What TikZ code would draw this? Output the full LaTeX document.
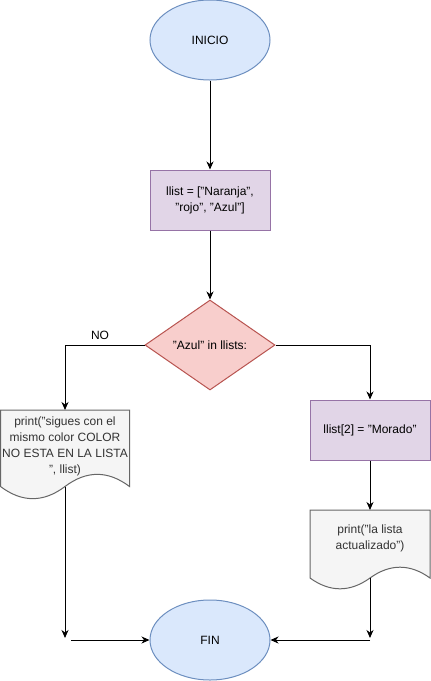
\documentclass[tikz,border=0pt]{standalone}
\usepackage{fontspec}
\setmainfont{Liberation Sans}
\usetikzlibrary{shapes.geometric,arrows.meta}
\definecolor{bluefill}{HTML}{DAE8FC}
\definecolor{bluedraw}{HTML}{6C8EBF}
\definecolor{purpfill}{HTML}{E1D5E7}
\definecolor{purpdraw}{HTML}{9673A6}
\definecolor{redfill}{HTML}{F8CECC}
\definecolor{reddraw}{HTML}{B85450}
\definecolor{docfill}{HTML}{F5F5F5}
\definecolor{docdraw}{HTML}{666666}
\definecolor{doctext}{HTML}{333333}
\tikzset{
  every node/.style={font=\fontsize{12}{16}\selectfont, inner sep=0pt, align=center},
  terminal/.style={ellipse, draw=bluedraw, fill=bluefill, line width=1pt, minimum width=120pt, minimum height=80pt},
  procbox/.style={rectangle, draw=purpdraw, fill=purpfill, line width=1pt, minimum width=120pt, minimum height=60pt},
  decision/.style={diamond, draw=reddraw, fill=redfill, line width=1pt, minimum width=130pt, minimum height=90pt},
  doctxt/.style={text=doctext},
  docline/.style={draw=docdraw, fill=docfill, line width=1pt},
  conn/.style={line width=1pt, -{Stealth[length=8pt,width=7pt,inset=2.5pt]}},
  plainconn/.style={line width=1pt}
}
\begin{document}
\begin{tikzpicture}[x=1pt,y=-1pt]
\useasboundingbox (0,0) rectangle (431,681);
% shapes
\node[terminal] (inicio) at (210,40) {INICIO};
\node[procbox] (lista) at (210,200) {llist = ["Naranja",\\ "rojo", "Azul"]};
\node[decision] (dec) at (210,345) {"Azul" in llists:};
\node[procbox] (morado) at (370,430) {llist[2] = "Morado"};
% left document
\path[docline] (0.5,410) -- (129.5,410) -- (129.5,486.5)
  .. controls (108,470.3) and (86.5,470.3) .. (65,486.5)
  .. controls (43.5,502.7) and (22,502.7) .. (0.5,486.5) -- cycle;
\node[doctxt] (docl) at (65,446) {print("sigues con el\\ mismo color COLOR\\ NO ESTA EN LA LISTA\\ ", llist)};
\coordinate (doclTop) at (65,410);
\coordinate (doclBot) at (65,486.5);
% right document
\path[docline] (310,510) -- (430,510) -- (430,578)
  .. controls (410,563.6) and (390,563.6) .. (370,578)
  .. controls (350,592.4) and (330,592.4) .. (310,578) -- cycle;
\node[doctxt] (docr) at (370,538) {print("la lista\\ actualizado")};
\coordinate (docrTop) at (370,510);
\coordinate (docrBot) at (370,578);
\node[terminal] (fin) at (210,640) {FIN};
% NO label
\node (nolbl) at (100,335) {NO};
% connectors
\coordinate (lend) at (65,638);
\coordinate (rend) at (370,638);
\coordinate (lstart) at (71,640);
\coordinate (rstart) at (370,640);
\draw[conn] (inicio) -- (lista);
\draw[conn] (lista) -- (dec);
\draw[conn] (dec.west) -| (doclTop);
\draw[conn] (dec.east) -| (morado.north);
\draw[conn] (morado) -- (docrTop);
\draw[conn] (doclBot) -- (lend);
\draw[conn] (docrBot) -- (rend);
\draw[conn] (lstart) -- (fin.west);
\draw[conn] (rstart) -- (fin.east);
\end{tikzpicture}
\end{document}
